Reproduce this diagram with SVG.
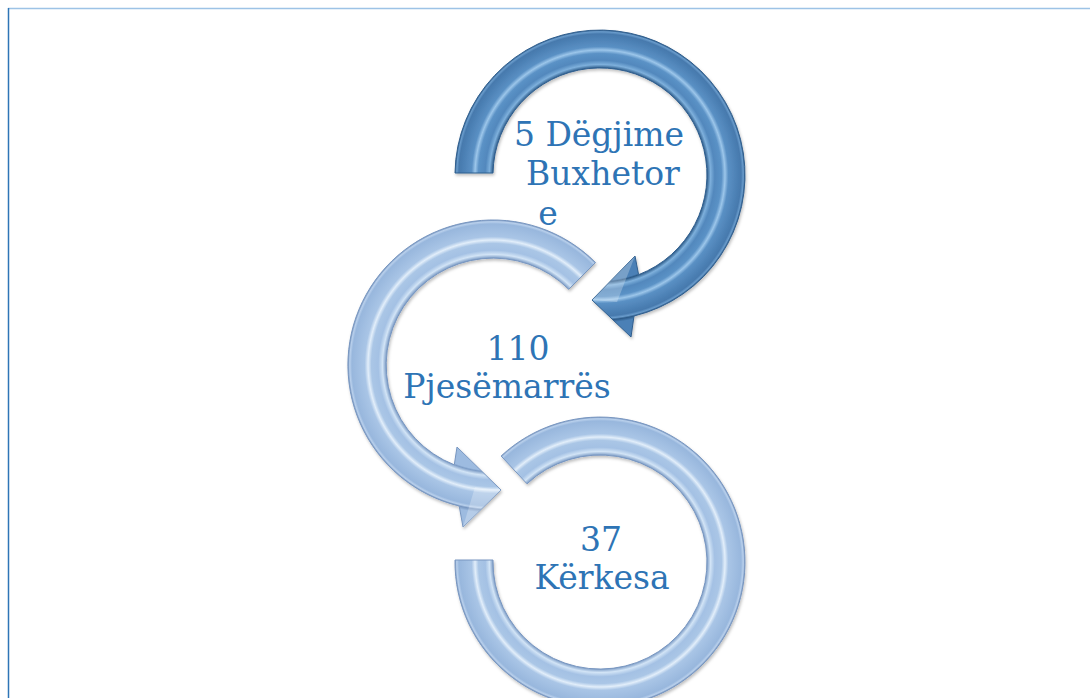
<svg xmlns="http://www.w3.org/2000/svg" width="1090" height="698" viewBox="0 0 1090 698">
<defs>
<radialGradient id="g1" gradientUnits="userSpaceOnUse" cx="600" cy="175" r="170">
<stop offset="0" stop-color="#4b80b6"/>
<stop offset="0.62" stop-color="#4b80b6"/>
<stop offset="0.629" stop-color="#2c5a88"/>
<stop offset="0.65" stop-color="#7eb0dc"/>
<stop offset="0.675" stop-color="#5288bd"/>
<stop offset="0.715" stop-color="#5b92c6"/>
<stop offset="0.735" stop-color="#9cc6ea"/>
<stop offset="0.755" stop-color="#5a90c4"/>
<stop offset="0.83" stop-color="#4679ad"/>
<stop offset="0.843" stop-color="#6a9ccc"/>
<stop offset="0.853" stop-color="#2c5a88"/>
<stop offset="0.87" stop-color="#4b80b6"/>
<stop offset="1" stop-color="#4b80b6"/>
</radialGradient>
<radialGradient id="g2" gradientUnits="userSpaceOnUse" cx="493" cy="365" r="170">
<stop offset="0" stop-color="#9dbbe0"/>
<stop offset="0.62" stop-color="#9dbbe0"/>
<stop offset="0.629" stop-color="#7c9cc6"/>
<stop offset="0.65" stop-color="#d2e4f6"/>
<stop offset="0.675" stop-color="#a4c1e4"/>
<stop offset="0.715" stop-color="#aac6e6"/>
<stop offset="0.735" stop-color="#e2eefa"/>
<stop offset="0.755" stop-color="#a9c5e6"/>
<stop offset="0.83" stop-color="#98b7dd"/>
<stop offset="0.843" stop-color="#b9d0ec"/>
<stop offset="0.853" stop-color="#7796c0"/>
<stop offset="0.87" stop-color="#9dbbe0"/>
<stop offset="1" stop-color="#9dbbe0"/>
</radialGradient>
<radialGradient id="g3" gradientUnits="userSpaceOnUse" cx="600" cy="562" r="170">
<stop offset="0" stop-color="#9dbbe0"/>
<stop offset="0.62" stop-color="#9dbbe0"/>
<stop offset="0.629" stop-color="#7c9cc6"/>
<stop offset="0.65" stop-color="#d2e4f6"/>
<stop offset="0.675" stop-color="#a4c1e4"/>
<stop offset="0.715" stop-color="#aac6e6"/>
<stop offset="0.735" stop-color="#e2eefa"/>
<stop offset="0.755" stop-color="#a9c5e6"/>
<stop offset="0.83" stop-color="#98b7dd"/>
<stop offset="0.843" stop-color="#b9d0ec"/>
<stop offset="0.853" stop-color="#7796c0"/>
<stop offset="0.87" stop-color="#9dbbe0"/>
<stop offset="1" stop-color="#9dbbe0"/>
</radialGradient>
<filter id="sh" x="-10%" y="-10%" width="120%" height="120%">
<feDropShadow dx="1" dy="2" stdDeviation="1.5" flood-color="#000" flood-opacity="0.25"/>
</filter>
</defs>
<style>
.dark{fill:url(#g1);stroke:#2f5e8e;stroke-width:1;filter:url(#sh)}
.light2{fill:url(#g2);stroke:#7896c0;stroke-width:1;filter:url(#sh)}
.light3{fill:url(#g3);stroke:#7896c0;stroke-width:1;filter:url(#sh)}
.lbl{font-family:"DejaVu Serif","Liberation Serif",serif;font-size:33px;fill:#2e74b5;text-anchor:middle}
.facet{fill:#ffffff;opacity:0.25}
</style>
<rect width="1090" height="698" fill="#ffffff"/>
<g id="frame">
<line x1="8" y1="8.5" x2="1090" y2="8.5" stroke="#9dc3e6" stroke-width="1.5"/>
<line x1="8.5" y1="8" x2="8.5" y2="698" stroke="#2e75b6" stroke-width="1.5"/>
</g>
<g id="connectors"></g>
<g id="node3">
<path class="light3" d="M 501.1 456 A 145 145 0 1 1 455 560 L 493 560 A 107 107 0 1 0 527 483.8 Z"/>
<text class="lbl" x="601" y="551">37</text>
<text class="lbl" x="602" y="589">Kërkesa</text>
</g>
<g id="node2">
<path class="light2" d="M 595.5 262.5 A 145 145 0 1 0 459.2 506 L 463 527 L 501 490 L 457 447 L 454.3 464.8 A 107 107 0 1 1 568.7 289.3 Z"/>
<path class="facet" d="M 463 527 L 501 490 L 475 487 Z"/>
<text class="lbl" x="518" y="360">110</text>
<text class="lbl" x="507" y="398">Pjesëmarrës</text>
</g>
<g id="node1">
<path class="dark" d="M 455 173 A 145 145 0 1 1 634 316 L 631 337 L 592 300 L 635 256 L 638.6 274.7 A 107 107 0 1 0 493 173 Z"/>
<path class="facet" d="M 635 256 L 592 300 L 617 302 Z"/>
<text class="lbl" x="599" y="146">5 Dëgjime</text>
<text class="lbl" x="603" y="185">Buxhetor</text>
<text class="lbl" x="548" y="225">e</text>
</g>
</svg>
